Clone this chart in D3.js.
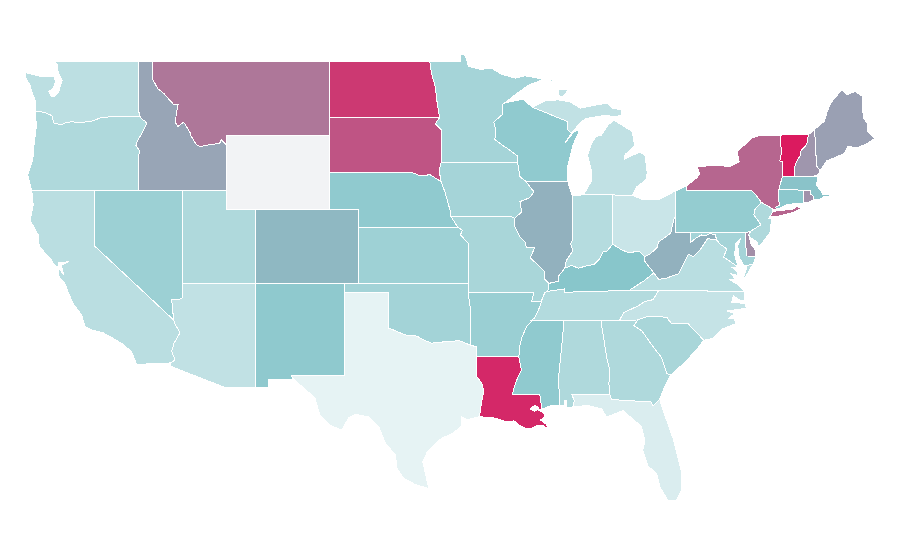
<!DOCTYPE html>
<html><head><meta charset="utf-8">
<style>html,body{margin:0;padding:0;background:#fff}svg{display:block}</style>
<script src="https://cdn.jsdelivr.net/npm/d3@7"></script></head><body>
<script>
const rev=a=>a.slice().reverse();
// shared borders (lon,lat)
const waOr=[[-124.05,46.27],[-123.75,46.27],[-123.4,46.22],[-123.2,46.15],[-122.9,46.05],[-122.8,45.75],[-122.75,45.65],[-122.3,45.55],[-121.9,45.68],[-121.5,45.72],[-121.2,45.65],[-120.85,45.67],[-120.5,45.72],[-120.2,45.75],[-119.6,45.92],[-119.3,45.93],[-118.98,46],[-116.92,46]];
const orId=[[-116.92,46],[-116.78,45.85],[-116.55,45.75],[-116.46,45.6],[-116.67,45.3],[-116.85,45],[-117.05,44.75],[-117.2,44.45],[-117.03,44.25],[-116.93,44.1],[-117.03,43.85],[-117.03,42]];
const idMt=[[-116.05,48],[-115.7,47.5],[-115.3,47.25],[-114.95,46.93],[-114.6,46.63],[-114.32,46.65],[-114.45,46.2],[-114.5,45.65],[-114.33,45.46],[-113.95,45.7],[-113.8,45.5],[-113.45,45.05],[-113.45,44.95],[-113.1,44.5],[-113,44.45],[-112.85,44.37],[-112.4,44.45],[-111.5,44.55],[-111.4,44.75],[-111.05,44.48]];
const orCoast=[[-124.05,46.27],[-123.95,45.5],[-124.1,44.6],[-124.2,43.7],[-124.55,42.85],[-124.27,42]];
const caAz=[[-114.63,35],[-114.54,34.8],[-114.2,34.3],[-114.6,33.75],[-114.76,33.3],[-114.54,32.85],[-114.81,32.68]];
const nvAz=[[-114.05,36.2],[-114.3,36.1],[-114.76,36.13],[-114.7,35.55],[-114.65,35.2],[-114.63,35]];
const sdNe=[[-104.05,43],[-98.5,43],[-97.9,42.8],[-97.2,42.85],[-96.7,42.6],[-96.45,42.49]];
const sdIa=[[-96.45,43.5],[-96.6,43.1],[-96.45,42.49]];
const mnNd=[[-97.23,49],[-97.1,48.3],[-96.85,47.6],[-96.75,46.9],[-96.56,45.94]];
const mnSd=[[-96.56,45.94],[-96.85,45.6],[-96.45,45.3],[-96.45,43.5]];
const neIa=[[-96.45,42.49],[-96.2,41.93],[-95.85,40.95],[-95.77,40.58]];
const neMo=[[-95.77,40.58],[-95.31,40]];
const ksMo=[[-95.31,40],[-95,39.85],[-95.15,39.6],[-94.6,39.15],[-94.62,37]];
const okAr=[[-94.62,36.5],[-94.43,35.4],[-94.48,33.64]];
const red=[[-94.48,33.64],[-95.2,33.88],[-95.8,33.85],[-96.5,33.8],[-97.1,33.75],[-97.6,33.9],[-98.1,34.13],[-98.95,34.2],[-99.5,34.4],[-100,34.56]];
const sabine=[[-94.04,33.02],[-94.04,31.95],[-93.7,31.6],[-93.55,31.13],[-93.7,30.6],[-93.75,30.3],[-93.85,29.77]];
const arLaTx=[[-94.48,33.64],[-94.04,33.55],[-94.04,33.02]];
const missLow=[[-90.1,35.1],[-90.6,34.7],[-90.95,34.1],[-91.1,33.6],[-91.17,33]];
const tnAr=[[-90.1,35.1],[-89.7,35.8],[-89.65,36]];
const ilMo=[[-91.45,40.5],[-91.45,40.05],[-91.1,39.5],[-90.75,39.2],[-90.65,38.9],[-90.1,38.9],[-90.4,38.35],[-89.9,38],[-89.4,37.6],[-89.4,37.2],[-89.13,36.98]];
const iaIl=[[-91.25,43.5],[-91.1,42.75],[-90.7,42.5],[-90.15,41.93],[-90.45,41.6],[-91.1,41.4],[-90.97,40.85],[-91.45,40.5]];
const mnWi=[[-92.1,46.75],[-92.3,46.66],[-92.3,46.1],[-92.87,45.7],[-92.75,45.3],[-92.8,44.75],[-92.3,44.45],[-91.9,44.25],[-91.25,43.85],[-91.25,43.5]];
const wiUp=[[-90.25,46.5],[-89.1,46.13],[-87.85,45.72],[-87.85,45.27],[-87.6,45.1]];
const wabash=[[-87.53,39.35],[-87.65,39.1],[-87.5,38.75],[-87.95,38.2],[-88.05,37.8]];
const ilKy=[[-88.05,37.8],[-88.45,37.4],[-88.45,37.1],[-89.13,36.98]];
const inKy=[[-84.8,39.1],[-85.2,38.7],[-85.45,38.7],[-85.7,38.3],[-86.05,38],[-86.5,37.95],[-87.1,37.8],[-87.6,37.95],[-88.05,37.8]];
const ohKy=[[-82.6,38.42],[-83,38.73],[-83.7,38.63],[-84.2,38.8],[-84.8,39.1]];
const ohWv=[[-80.52,40.64],[-80.65,40.4],[-80.85,39.7],[-81.7,39.2],[-81.75,38.95],[-82.2,38.6],[-82.6,38.42]];
const kyWv=[[-82.6,38.42],[-82.6,38.17],[-82,37.54]];
const kyVa=[[-82,37.54],[-82.7,37.1],[-83.68,36.6]];
const kyTn=[[-83.68,36.6],[-88.07,36.5],[-88.07,36.68],[-89.2,36.55]];
const vaWv=[[-77.72,39.32],[-78.35,39.4],[-78.87,38.77],[-79.3,38.42],[-79.65,38.55],[-80.3,37.5],[-81.2,37.25],[-81.68,37.2],[-82,37.54]];
const mdWv=[[-79.48,39.72],[-79.48,39.2],[-79.1,39.45],[-78.75,39.6],[-78.45,39.55],[-78.2,39.68],[-77.83,39.6],[-77.72,39.32]];
const tnNc=[[-81.68,36.59],[-82.05,36.1],[-82.6,36],[-83.1,35.75],[-84.05,35.4],[-84.32,34.99]];
const alGa=[[-85.6,34.98],[-85.18,32.87],[-85,32.3],[-85.05,31.55],[-85,31]];
const flGa=[[-85,31],[-84.86,30.7],[-82.2,30.57],[-82.05,30.36],[-81.6,30.72]];
const gaSc=[[-83.1,35],[-83.35,34.7],[-82.8,34.4],[-82,33.5],[-81.5,33],[-81.1,32.1],[-80.85,32.03]];
const ncSc=[[-83.1,35],[-82.4,35.2],[-81.05,35.15],[-81.05,35.05],[-80.8,34.82],[-79.67,34.8],[-78.6,33.9]];
const msAl=[[-88.2,35],[-88.1,34.9],[-88.47,31.9],[-88.4,30.35]];
const msLa=[[-91.17,33],[-91,32.3],[-91.4,31.6],[-91.6,31],[-89.75,31],[-89.6,30.18]];
const paNj=[[-74.7,41.36],[-75.13,40.97],[-75.2,40.68],[-74.72,40.15],[-75.42,39.8]];
const nyPaE=[[-75.35,42],[-75.05,41.75],[-74.7,41.36]];
const nyVt=[[-73.35,45],[-73.4,44.5],[-73.3,44.2],[-73.43,43.6],[-73.25,43.55],[-73.27,42.75]];
const vtNh=[[-71.5,45.01],[-71.6,44.5],[-72.05,44.1],[-72.05,43.9],[-72.4,43.4],[-72.45,42.73]];
const nhMe=[[-71.08,45.3],[-70.98,44],[-70.97,43.35],[-70.7,43.07]];
const nyCt=[[-73.5,42.05],[-73.49,41.2],[-73.73,41.1],[-73.65,40.98]];
const nyNj=[[-74.7,41.36],[-73.9,41],[-74,40.7]];
const deMd=[[-75.8,39.72],[-75.7,38.46],[-75.05,38.45]];
const deNj=[[-75.42,39.8],[-75.55,39.6]];
const lakeErieMi=[[-84.8,41.76],[-83.45,41.73]];

// one ring list per state
const ringsWA=[[[-117.03,49],[-122.76,49],[-122.5,48.75],[-122.5,48.45],[-122.35,48.2],[-122.2,47.95],[-122.35,47.6],[-122.45,47.3],[-122.7,47.1],[-122.95,47.1],[-123.1,47.35],[-122.85,47.5],[-122.65,47.85],[-122.75,48.15],[-123.1,48.17],[-123.7,48.17],[-124.7,48.38],[-124.73,48.15],[-124.4,47.7],[-124.2,47.2],[-124.05,46.9],...waOr,[-117.04,46.42]]];
const ringsOR=[[...waOr,...orId,[-120,42],...rev(orCoast)]];
const ringsCA=[[[-124.27,42],[-120,42],[-120,39],...caAz,[-117.15,32.6],[-117.48,33.28],[-118.1,33.7],[-118.5,33.9],[-119.4,34.3],[-120.2,34.46],[-120.65,34.64],[-120.88,35.27],[-121.47,35.9],[-121.85,36.6],[-122.02,36.98],[-122.4,37.3],[-122.5,37.85],[-122.75,38],[-123.03,38.35],[-123.76,38.96],[-123.83,39.6],[-124.39,40.4],[-124.17,41.2]],[[-122.45,38.1],[-121.75,38.15],[-122.25,37.95],[-122.1,37.45],[-122.45,37.8]],[[-120.2,34.02],[-120,34.02],[-120,33.97]],[[-119.85,34.03],[-119.55,34.03],[-119.7,33.97]],[[-118.5,33.45],[-118.3,33.35],[-118.45,33.33]]];
const ringsNV=[[[-120,42],[-114.05,42],...nvAz,[-120,39]]];
const ringsID=[[[-117.03,49],[-116.05,49],...idMt,[-111.05,42],...rev(orId),[-117.04,46.42]]];
const ringsMT=[[[-116.05,49],[-104.05,49],[-104.05,45],[-111.05,45],...rev(idMt)]];
const ringsWY=[[[-111.05,45],[-104.05,45],[-104.05,41],[-111.05,41]]];
const ringsUT=[[[-114.05,42],[-111.05,42],[-111.05,41],[-109.05,41],[-109.05,37],[-114.05,37]]];
const ringsCO=[[[-109.05,41],[-102.05,41],[-102.05,37],[-109.05,37]]];
const ringsAZ=[[[-114.05,37],[-109.05,37],[-109.05,31.33],[-111.07,31.33],[-114.81,32.49],...rev(caAz),...rev(nvAz)]];
const ringsNM=[[[-109.05,37],[-103,37],[-103.04,32],[-106.62,32],[-106.53,31.78],[-108.2,31.78],[-108.2,31.33],[-109.05,31.33]]];
const ringsND=[[[-104.05,49],...mnNd,[-104.05,45.94]]];
const ringsSD=[[[-104.05,45.94],...mnSd,...sdIa.slice(1),...rev(sdNe).slice(1)]];
const ringsNE=[[...sdNe,...neIa,...neMo,[-102.05,40],[-102.05,41],[-104.05,41]]];
const ringsKS=[[[-102.05,40],...ksMo,[-102.05,37]]];
const ringsOK=[[[-103,37],[-94.62,37],...okAr,...red,[-100,36.5],[-103,36.5]]];
const ringsTX=[[[-103,36.5],[-100,36.5],...rev(red),...arLaTx.slice(1),...sabine,[-94.7,29.6],[-95.05,29.77],[-95.05,29.3],[-95.6,28.9],[-96.3,28.65],[-96.6,28.5],[-97.38,27.9],[-97.7,27.33],[-97.55,26.8],[-97.3,25.9],[-98.2,26.1],[-99,26.45],[-99.47,27],[-99.55,27.7],[-100.25,28.35],[-100.7,29.25],[-101.4,29.77],[-102.3,29.9],[-102.75,29.7],[-103.2,29.05],[-104,29.3],[-104.7,29.87],[-105.03,30.8],[-106.05,31.5],[-106.6,31.93],[-106.62,32],[-103.04,32]]];
const ringsMN=[[[-97.23,49],[-95.15,49],[-95.15,49.38],[-94.8,49.3],[-94.6,48.72],[-93.8,48.55],[-93,48.6],[-92.4,48.3],[-91.4,48.07],[-90.8,48.2],[-90,48.1],[-89.5,48],[-90.5,47.7],[-91.3,47.25],...mnWi,[-96.45,43.5],...rev(mnSd),...rev(mnNd)]];
const ringsIA=[[[-96.45,43.5],...iaIl,[-91.72,40.6],...rev(neIa),...rev(sdIa).slice(1)]];
const ringsMO=[[...neMo,...ksMo,[-94.62,36.5],[-90.15,36.5],[-90.3,36],[-89.65,36],[-89.4,36.5],[-89.2,36.55],...rev(ilMo),[-91.72,40.6]]];
const ringsAR=[[[-94.62,36.5],[-90.15,36.5],[-90.3,36],[-89.65,36],...rev(tnAr),...missLow,[-94.04,33.02],...rev(arLaTx).slice(1),...rev(okAr).slice(1)]];
const ringsLA=[[...arLaTx.slice(-1),...msLa,[-89.9,30.15],[-89.5,30],[-89.4,29.75],[-89.7,29.6],[-89.3,29.35],[-89.13,29.05],[-89.5,29.3],[-89.9,29.3],[-90.3,29.15],[-90.75,29.15],[-91.2,29.35],[-91.5,29.55],[-91.85,29.5],[-92.25,29.55],[-92.9,29.72],...rev(sabine)],[[-90.4,30.2],[-90.1,30.38],[-89.8,30.25],[-90.1,30.05]]];
const ringsMS=[[[-90.3,35],...msAl,[-88.9,30.4],...rev(msLa),...rev(missLow).slice(1)]];
const ringsAL=[[...msAl.slice(0,1),...alGa,[-87.6,31],[-87.4,30.65],[-87.5,30.3],[-87.95,30.25],[-87.9,30.65],[-88.1,30.65],[-88.1,30.4],...rev(msAl)]];
const ringsGA=[[...alGa,...flGa,[-81.2,31.5],...rev(gaSc)]];
const ringsFL=[[[-87.6,31],...flGa,[-81.45,30.3],[-80.65,28.5],[-80.35,27.55],[-80.1,26.7],[-80.15,25.75],[-80.45,25.25],[-81.05,25.25],[-81.6,26],[-81.8,26.7],[-82.4,27.1],[-82.75,27.95],[-82.6,28.5],[-82.85,29.25],[-84.1,30.1],[-85.2,29.75],[-85.55,30.2],[-86.5,30.38],[-87.5,30.3],[-87.4,30.65]]];
const ringsSC=[[...ncSc,[-79.1,33.4],[-79.9,32.7],...rev(gaSc)]];
const ringsNC=[[[-84.32,34.99],...ncSc,[-78,34],[-77.4,34.5],[-76.45,34.8],[-76.5,35.05],[-76.9,35.1],[-76.5,35.35],[-77.05,35.5],[-76.4,35.55],[-75.72,35.65],[-75.8,35.9],[-76.7,35.95],[-76.6,36.3],[-76.1,36.05],[-75.85,36.05],[-75.87,36.55],...tnNc]];
const ringsVA=[[[-75.87,36.55],[-76.35,36.95],[-76.9,37.2],[-76.4,37.15],[-76.75,37.5],[-76.3,37.4],[-76.3,37.6],[-76.7,37.85],[-76.25,37.85],[-77.25,38.4],[-77.05,38.85],[-77.5,39.1],...vaWv,...kyVa,[-81.68,36.59]],[[-75.95,37.15],[-75.6,37.55],[-75.25,38.03],[-75.65,37.95]]];
const ringsWV=[[...ohWv,...kyWv,...rev(vaWv),...rev(mdWv),[-80.52,39.72]]];
const ringsKY=[[...ohKy,...inKy,...ilKy,[-89.2,36.55],...rev(kyTn),...rev(kyVa).slice(1),...rev(kyWv).slice(1)]];
const ringsTN=[[...kyTn,[-89.4,36.5],[-89.65,36],...rev(tnAr).slice(1),[-90.3,35],[-84.32,34.99],...rev(tnNc)]];
const ringsWI=[[...mnWi.slice(0,1),[-90.9,46.93],...wiUp,[-88.05,44.56],[-87.4,45.2],[-87.05,45.25],[-87.5,44.45],[-87.7,43.8],[-87.85,43.3],[-87.85,42.49],[-90.7,42.5],...rev(iaIl.slice(0,3)),...rev(mnWi).slice(1)]];
const ringsIL=[[[-90.7,42.5],[-87.85,42.49],[-87.53,41.7],...wabash,...ilKy,...rev(ilMo),...rev(iaIl.slice(2))]];
const ringsIN=[[[-87.53,41.7],[-87.2,41.75],[-86.82,41.76],[-84.8,41.76],...inKy,...rev(wabash)]];
const ringsOH=[[...lakeErieMi,[-82.7,41.5],[-81.7,41.5],[-80.52,41.98],...ohWv,...ohKy]];
const ringsMI=[[[-86.82,41.76],...lakeErieMi,[-83.15,42.2],[-82.5,42.6],[-82.45,43],[-82.6,43.9],[-82.95,44.07],[-83.3,43.95],[-84,43.7],[-83.95,43.95],[-83.3,44.4],[-83.4,44.9],[-83.5,45.2],[-84.1,45.5],[-84.7,45.8],[-85.1,45.55],[-85.55,45],[-85.95,44.9],[-86.25,44.5],[-86.5,43.9],[-86.25,43.1],[-86.25,42.5],[-86.6,42]],[...wiUp,[-86.9,45.75],[-86.55,45.9],[-85.2,46.08],[-84.7,45.97],[-84.2,46.07],[-84.2,46.35],[-84.8,46.45],[-85.2,46.73],[-87,46.45],[-87.7,46.8],[-88.5,46.9],[-89.4,46.85]],[[-88.5,47.15],[-88.5,47.43],[-87.8,47.45],[-88.2,47.05]],[[-89.2,47.88],[-88.5,48.15],[-88.9,47.92]],[[-84,46],[-83.55,46.1],[-83.9,45.95]]];
const ringsPA=[[[-80.52,41.98],[-79.76,42.27],[-79.76,42],...nyPaE,...paNj,[-75.8,39.72],[-80.52,39.72]]];
const ringsNY=[[[-79.76,42.27],[-79.05,42.7],[-78.9,42.9],[-79.05,43.27],[-78,43.37],[-76.8,43.3],[-76.2,43.55],[-76.35,44.1],[-75.3,44.85],[-74.7,45],...nyVt,...nyCt,[-73.9,41],...rev(nyPaE),[-79.76,42]],[[-74.15,40.58],[-73.9,40.85],[-73.65,40.9],[-72.6,40.98],[-72.3,41.12],[-71.9,41.05],[-72.5,40.82],[-73.5,40.62]]];
const ringsNJ=[[...nyNj,[-74.2,40.5],[-74,40.45],[-74.1,39.75],[-74.4,39.4],[-74.9,38.93],[-74.95,39.2],[-75.5,39.5],[-75.55,39.6],...rev(deNj),...rev(paNj).slice(1)]];
const ringsDE=[[...deMd,[-75.1,38.78],[-75.4,39.1],...rev(deNj)]];
const ringsMD=[[[-79.48,39.72],...deMd,[-75.25,38.03],[-75.65,37.95],[-75.9,37.95],[-76.2,38.4],[-76.3,39],[-76.1,39.4],[-76.45,39.1],[-76.5,38.5],[-76.35,38.1],[-76.25,37.85],[-77.25,38.4],[-77.05,38.85],[-77.5,39.1],...rev(mdWv).slice(0,-1)]];
const ringsVT=[[...nyVt.slice(0,1),...vtNh,...rev(nyVt)]];
const ringsNH=[[...vtNh.slice(0,1),...nhMe,[-70.82,42.87],[-71.25,42.73],...rev(vtNh)]];
const ringsME=[[...nhMe.slice(0,1),[-70.4,45.75],[-70.25,46.2],[-70,46.7],[-69.23,47.46],[-68.9,47.18],[-68.3,47.35],[-67.8,47.07],[-67.78,45.94],[-67.45,45.6],[-67.45,45.2],[-66.97,44.82],[-67.6,44.5],[-68.2,44.3],[-68.8,44.4],[-69.05,44],[-69.8,43.75],[-70.25,43.6],[-70.7,43.07],[-70.97,43.35],[-70.98,44]]];
const ringsMA=[[[-73.5,42.05],[-73.27,42.75],[-72.45,42.73],[-71.25,42.73],[-70.85,42.75],[-70.95,42.3],[-70.6,41.93],[-70.5,41.78],[-70.05,41.78],[-70,41.72],[-70.5,41.65],[-70.6,41.55],[-71.12,41.5],[-71.12,41.65],[-71.33,41.8],[-71.38,42.02],[-71.8,42.02]],[[-70.8,41.38],[-70.5,41.42],[-70.55,41.35]],[[-70.2,41.3],[-69.97,41.28],[-70.1,41.25]]];
const ringsCT=[[[-73.5,42.05],[-71.8,42.02],[-71.85,41.32],[-72.9,41.25],...rev(nyCt)]];
const ringsRI=[[[-71.8,42.02],[-71.38,42.02],[-71.33,41.8],[-71.12,41.65],[-71.12,41.5],[-71.5,41.37],[-71.85,41.32]]];

// categories and estimated values (null = no data)
const stateNames=["Washington","Oregon","California","Nevada","Idaho","Montana","Wyoming","Utah","Colorado","Arizona","New Mexico","North Dakota","South Dakota","Nebraska","Kansas","Oklahoma","Texas","Minnesota","Iowa","Missouri","Arkansas","Louisiana","Mississippi","Alabama","Georgia","Florida","South Carolina","North Carolina","Virginia","West Virginia","Kentucky","Tennessee","Wisconsin","Illinois","Indiana","Ohio","Michigan","Pennsylvania","New York","New Jersey","Delaware","Maryland","Vermont","New Hampshire","Maine","Massachusetts","Connecticut","Rhode Island"];
const stateValues=[24.5,31,25.5,40,59.5,73,null,31,54,22,46.5,91,83,46,39,37,4,36,36,34,41,96,46,31,31,10,34,20,26,56,50,29,46,56,28,18,22,44,78,31,66,36,100,64,61,51,48,65];
const stateRings=[ringsWA,ringsOR,ringsCA,ringsNV,ringsID,ringsMT,ringsWY,ringsUT,ringsCO,ringsAZ,ringsNM,ringsND,ringsSD,ringsNE,ringsKS,ringsOK,ringsTX,ringsMN,ringsIA,ringsMO,ringsAR,ringsLA,ringsMS,ringsAL,ringsGA,ringsFL,ringsSC,ringsNC,ringsVA,ringsWV,ringsKY,ringsTN,ringsWI,ringsIL,ringsIN,ringsOH,ringsMI,ringsPA,ringsNY,ringsNJ,ringsDE,ringsMD,ringsVT,ringsNH,ringsME,ringsMA,ringsCT,ringsRI];

const x=d3.scaleLinear().domain([-124.73,-66.97]).range([25,875]);
const y=d3.scaleLinear().domain([49,37]).range([61,283]);
const color=d3.scaleLinear().domain([0,50,100]).range(["#EEF7F8","#88C6CB","#DB1A5F"]);
const noData="#F2F3F5";
const path=d3.geoPath(d3.geoTransform({point(lon,lat){this.stream.point(x(lon),y(lat));}}));
const closeRing=r=>[...r,r[0]];
const features=stateNames.map((name,i)=>({type:"Feature",properties:{name,value:stateValues[i]},geometry:{type:"MultiPolygon",coordinates:stateRings[i].map(r=>[closeRing(r)])}}));
const svg=d3.select("body").append("svg").attr("width",900).attr("height",560);
svg.append("g").attr("fill-rule","evenodd").selectAll("path").data(features).join("path")
  .attr("d",path).attr("fill",d=>d.properties.value===null?noData:color(d.properties.value))
  .attr("stroke","#fff").attr("stroke-width",1).attr("shape-rendering","crispEdges");
</script></body></html>
